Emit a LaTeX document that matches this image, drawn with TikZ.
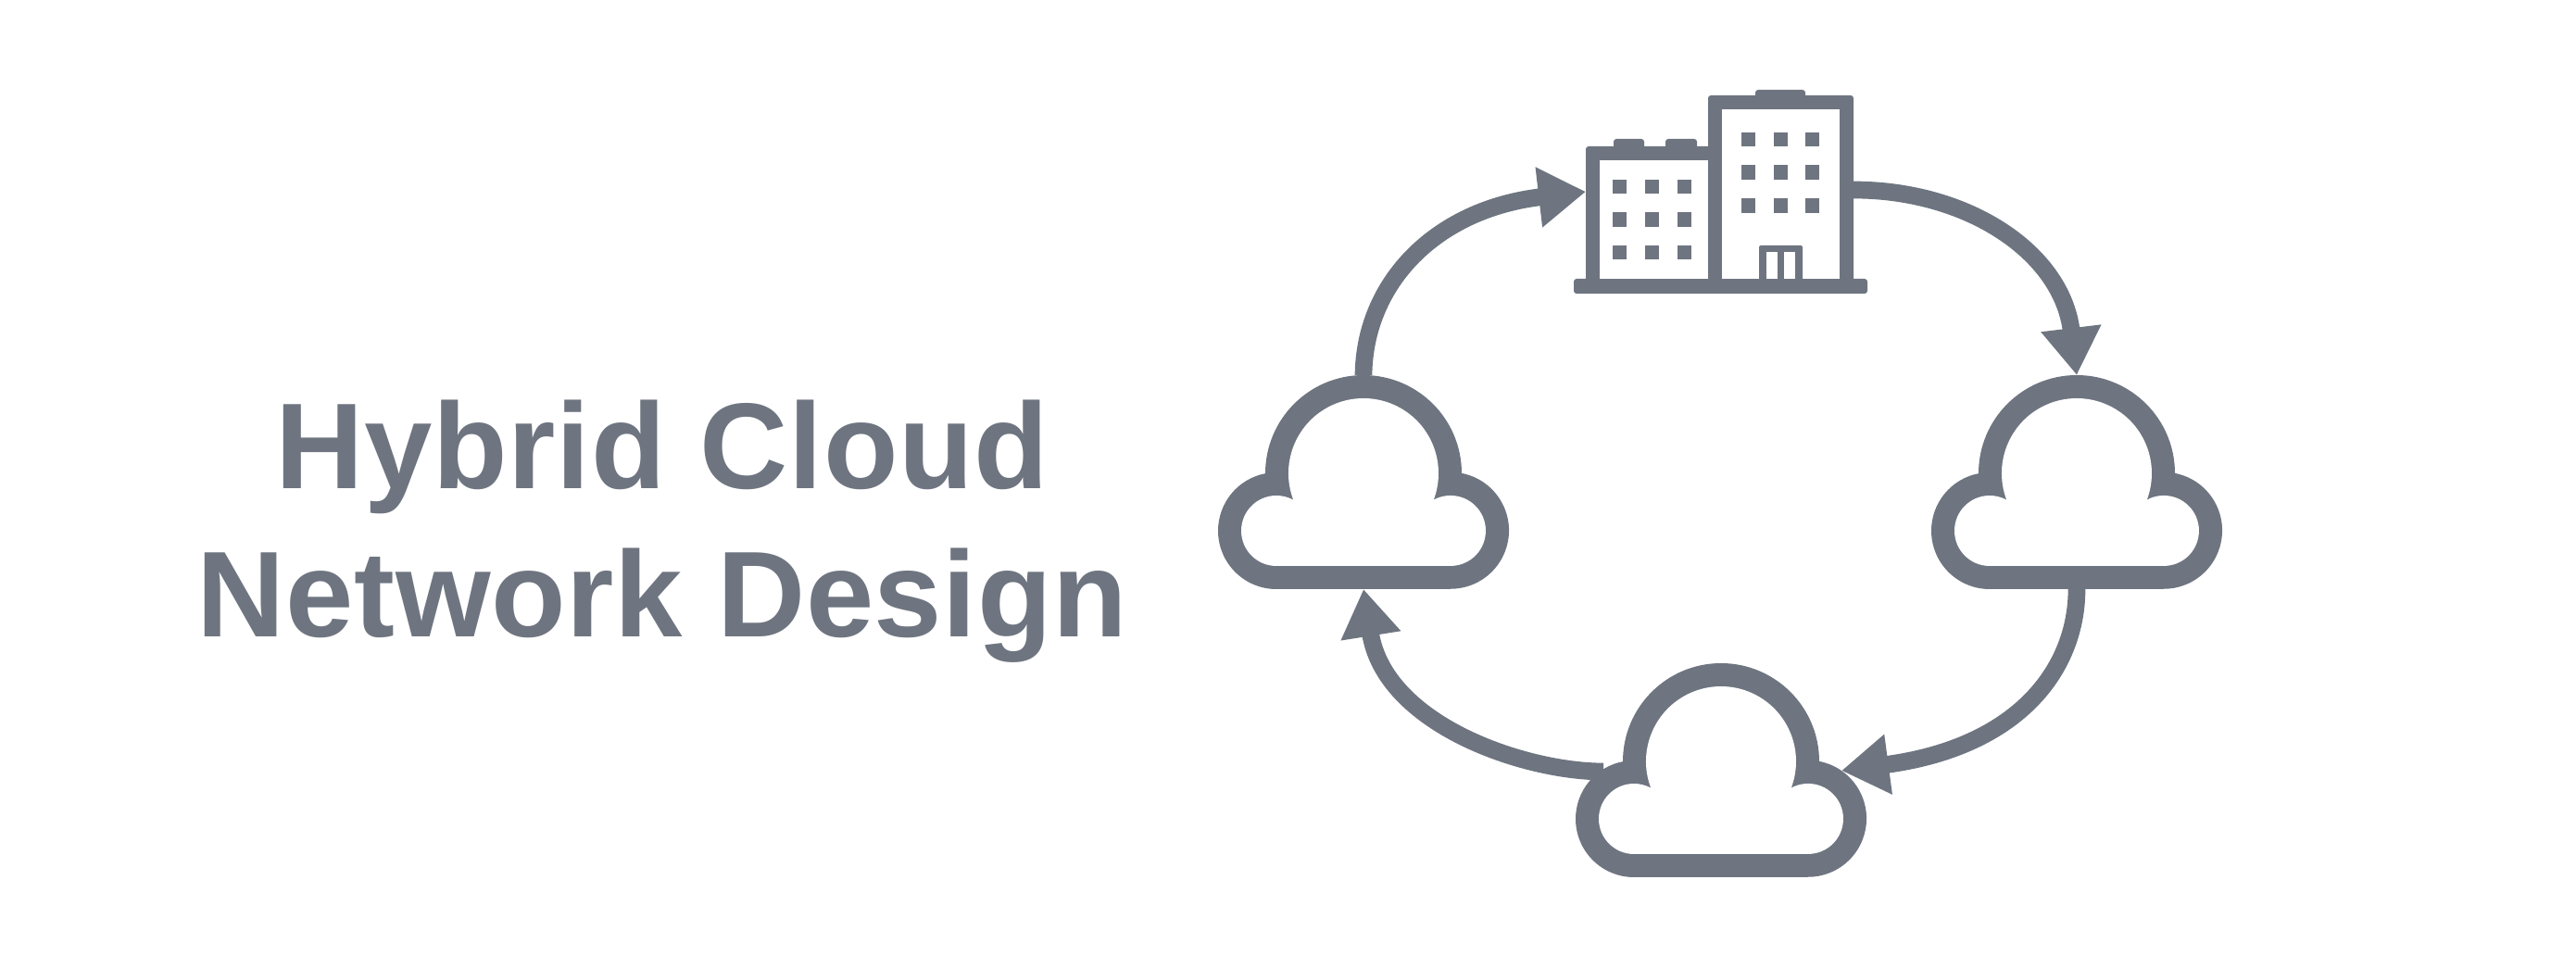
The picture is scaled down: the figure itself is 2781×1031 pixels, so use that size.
\documentclass[tikz,border=0pt]{standalone}
\usepackage{fontspec}
\usetikzlibrary{arrows.meta}
\newfontfamily\titlefont[LetterSpace=0.5]{Liberation Sans}
\definecolor{slategrey}{HTML}{6E7580}

\tikzset{
  link/.style={draw=slategrey,line width=0.187cm,-{Triangle[length=0.51cm,width=0.62cm]},fill=none},
  cloudicon/.pic={
    \coordinate (-top) at (0,-106);
    \coordinate (-bottom) at (0,125);
    \coordinate (-west) at (-127,11);
    \coordinate (-east) at (130,10);
    \fill[slategrey]
      (-106,-0.1) arc[start angle=180.05,end angle=359.95,radius=106]
      arc[start angle=280.94,end angle=450,radius=63]
      -- (-94,125)
      arc[start angle=90,end angle=259.06,radius=63] -- cycle;
    \fill[white]
      (-75.8,28.6) arc[start angle=159.33,end angle=380.67,radius=81]
      arc[start angle=241.4,end angle=450,radius=38]
      -- (-94,100)
      arc[start angle=90,end angle=298.6,radius=38] -- cycle;
  }
}

\begin{document}
\begin{tikzpicture}[x=0.01cm,y=-0.01cm]
	\useasboundingbox (0,0) rectangle (2781,1031);

	\node (title) [text=slategrey,font=\titlefont\bfseries\fontsize{37.5}{45.5}\selectfont,align=center,inner sep=0pt]
	  at (715,574) {Hybrid Cloud\\Network Design};

	\coordinate (lowin) at (1712,207);
	\coordinate (towerout) at (2001,205);

	\path (1472,511) pic (cloudleft) {cloudicon};
	\path (2242,511) pic (cloudright) {cloudicon};
	\path (1858,822) pic (cloudlow) {cloudicon};

	\draw[link] (cloudleft-top) .. controls (1473,306) and (1549,226) .. (lowin);
	\draw[link] (towerout) .. controls (2125,205) and (2226,273) .. (cloudright-top);
	\draw[link] (cloudright-bottom) .. controls (2242,720) and (2182,806) .. (cloudlow-east);
	\draw[link] (cloudlow-west) .. controls (1645,833) and (1495,782) .. (cloudleft-bottom);

	% office building
	\fill[slategrey,rounded corners=0.03cm] (1712,158) rectangle (1860,310);
	\fill[slategrey,rounded corners=0.03cm] (1844,103) rectangle (2001,310);
	\fill[slategrey,rounded corners=0.03cm] (1699,301) rectangle (2016,317);
	\fill[slategrey,rounded corners=0.03cm] (1895,97) rectangle (1949,110);
	\fill[slategrey,rounded corners=0.03cm] (1742,150) rectangle (1775,165);
	\fill[slategrey,rounded corners=0.03cm] (1798,150) rectangle (1832,165);
	\fill[white] (1727,173) rectangle (1844,301);
	\fill[white] (1859,118) rectangle (1986,301);
	\foreach \wx in {1880,1915,1949}
	  \foreach \wy in {143,178.5,214.5}
	    \fill[slategrey] (\wx,\wy) rectangle ++(15.3,15.3);
	\foreach \wx in {1741,1776,1811}
	  \foreach \wy in {194,229.5,265}
	    \fill[slategrey] (\wx,\wy) rectangle ++(15.3,15.3);
	\fill[slategrey,rounded corners=0.02cm] (1899,265) rectangle (1946,310);
	\fill[white] (1907,272) rectangle (1919,301);
	\fill[white] (1926,272) rectangle (1938,301);
\end{tikzpicture}
\end{document}
